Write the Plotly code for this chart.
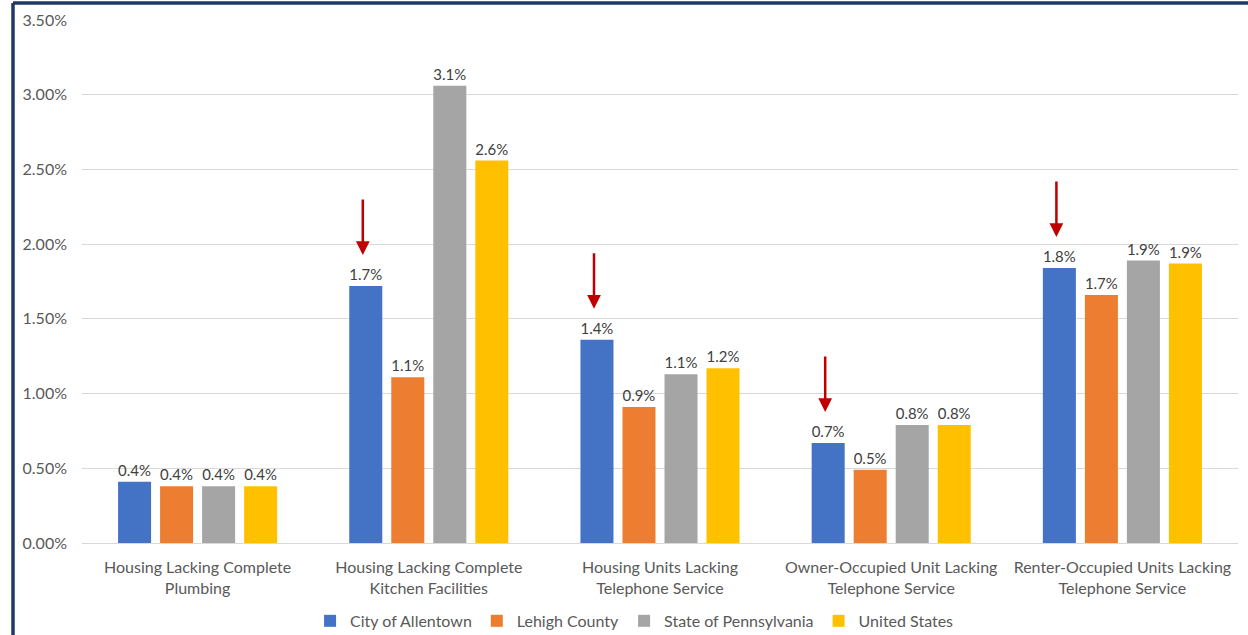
import plotly.graph_objects as go

# Housing quality indicators by geography (share of units)
categories = [
    "Housing Lacking Complete<br>Plumbing",
    "Housing Lacking Complete<br>Kitchen Facilities",
    "Housing Units Lacking<br>Telephone Service",
    "Owner-Occupied Unit Lacking<br>Telephone Service",
    "Renter-Occupied Units Lacking<br>Telephone Service",
]
allentown = [0.0041, 0.0172, 0.0136, 0.0067, 0.0184]
lehigh = [0.0038, 0.0111, 0.0091, 0.0049, 0.0166]
pennsylvania = [0.0038, 0.0306, 0.0113, 0.0079, 0.0189]
united_states = [0.0038, 0.0256, 0.0117, 0.0079, 0.0187]

series = [
    ("City of Allentown", allentown, "#4472C4"),
    ("Lehigh County", lehigh, "#ED7D31"),
    ("State of Pennsylvania", pennsylvania, "#A5A5A5"),
    ("United States", united_states, "#FFC000"),
]

# Groups highlighted with a red arrow over the Allentown bar
highlighted = [1, 2, 3, 4]

FONT = "Lato, 'Open Sans', sans-serif"

fig = go.Figure()
for name, vals, color in series:
    fig.add_trace(go.Bar(
        name=name,
        x=categories,
        y=vals,
        marker=dict(color=color, line=dict(width=0)),
        texttemplate="%{y:.1%}",
        textposition="outside",
        textfont=dict(family=FONT, size=16, color="#404040"),
        cliponaxis=False,
    ))

for i in highlighted:
    fig.add_annotation(
        x=categories[i], y=allentown[i], xref="x", yref="y",
        text="", showarrow=True,
        ax=0, ay=-57, axref="pixel", ayref="pixel",
        xshift=-66, yshift=31,
        arrowhead=2, arrowsize=1.1, arrowwidth=2.5, arrowcolor="#C00000",
    )

# Dark frame along the top and left edges
x_left = (13 - 82) / 1156
y_top = (543 - 3) / 523
fig.add_shape(type="line", xref="paper", yref="paper",
              x0=x_left, x1=x_left, y0=y_top, y1=-0.2,
              line=dict(color="#1F3864", width=3.5))
fig.add_shape(type="line", xref="paper", yref="paper",
              x0=x_left, x1=1.02, y0=y_top, y1=y_top,
              line=dict(color="#1F3864", width=3.5))

fig.update_layout(
    width=1248, height=635,
    margin=dict(l=82, r=10, t=20, b=92, autoexpand=False),
    paper_bgcolor="white", plot_bgcolor="white",
    barmode="group", bargap=0.273, bargroupgap=0.214,
    font=dict(family=FONT, size=16, color="#595959"),
    showlegend=True,
    legend=dict(
        orientation="h", x=0.478, xanchor="center", y=-0.149, yanchor="middle",
        font=dict(family=FONT, size=16, color="#595959"),
        itemwidth=30, tracegroupgap=0,
    ),
    xaxis=dict(
        showgrid=False, showline=True, linecolor="#D9D9D9", linewidth=1,
        ticks="", ticklabelstandoff=10, automargin=False,
        tickfont=dict(family=FONT, size=16, color="#595959"),
    ),
    yaxis=dict(
        range=[0, 0.035], dtick=0.005, tickformat=".2%",
        showgrid=True, gridcolor="#D9D9D9", gridwidth=1,
        zeroline=False, showline=False, ticks="", automargin=False,
        ticklabelstandoff=14,
        tickfont=dict(family=FONT, size=16, color="#595959"),
    ),
)

fig.write_html("out.html")
